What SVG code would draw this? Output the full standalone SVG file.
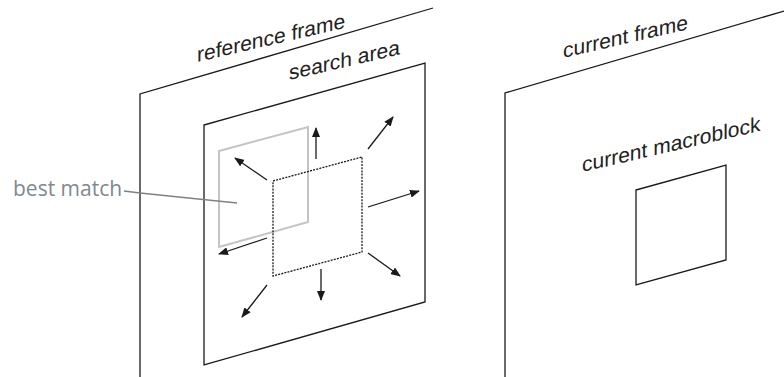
<svg xmlns="http://www.w3.org/2000/svg" width="784" height="377" viewBox="0 0 784 377">
  <style>
    .edge { fill: none; stroke: #1a1a1a; stroke-width: 1.3; stroke-linejoin: miter; }
    .dotted { fill: none; stroke: #1a1a1a; stroke-width: 1.3; stroke-dasharray: 2 1.2; }
    .ghost { fill: none; stroke: #c4c4c4; stroke-width: 2; }
    .arrow { fill: none; stroke: #1a1a1a; stroke-width: 1.3; marker-end: url(#head); }
    .label { font-family: "Liberation Sans", Arial, sans-serif; font-size: 21px; fill: #222; }
    .note { font-family: "Open Sans", "Noto Sans", sans-serif; font-size: 21px; fill: #808890; }
    .leader { fill: none; stroke: #808080; stroke-width: 1.5; }
  </style>
  <defs>
    <marker id="head" viewBox="0 0 10 8" refX="9" refY="4" markerWidth="10" markerHeight="8" markerUnits="userSpaceOnUse" orient="auto">
      <path d="M0,0 L10,4 L0,8 Z" fill="#1a1a1a"/>
    </marker>
  </defs>

  <rect width="784" height="377" fill="#ffffff"/>

  <!-- reference frame plane -->
  <g id="reference-frame">
    <path class="edge" d="M140,377 V94 L433,8"/>
    <text class="label" transform="translate(197,62) skewY(-13)">reference frame</text>
  </g>

  <!-- search area inside the reference frame -->
  <g id="search-area">
    <polygon class="edge" points="204,125 425,63 425,302 204,365"/>
    <text class="label" transform="translate(289,80) skewY(-13)">search area</text>
  </g>

  <!-- best matching block found in the search -->
  <g id="best-match">
    <polygon class="ghost" points="219,151 308,127 308,222 219,247"/>
  </g>

  <!-- co-located block position in the search area -->
  <g id="candidate-block">
    <polygon class="dotted" points="273,181 362,157 362,252 273,276"/>
  </g>

  <!-- current frame plane -->
  <g id="current-frame">
    <path class="edge" d="M505,377 V93 L784,11"/>
    <text class="label" transform="translate(563,58) skewY(-13)">current frame</text>
  </g>

  <g id="current-macroblock">
    <polygon class="edge" points="636,190 726,165 726,260 636,285"/>
    <text class="label" transform="translate(582,172) skewY(-13)">current macroblock</text>
  </g>

  <!-- label with leader line -->
  <g id="best-match-label">
    <text class="note" x="13" y="196">best match</text>
  </g>

  <!-- search direction arrows and leader -->
  <g id="connectors">
    <polyline class="leader" points="124,191 140,193 237,203"/>
    <line class="arrow" x1="316" y1="159" x2="316" y2="128"/>
    <line class="arrow" x1="368" y1="149" x2="393" y2="117"/>
    <line class="arrow" x1="368" y1="207" x2="419" y2="191"/>
    <line class="arrow" x1="368" y1="253" x2="400" y2="276"/>
    <line class="arrow" x1="321" y1="269" x2="321" y2="300"/>
    <line class="arrow" x1="267" y1="285" x2="242" y2="317"/>
    <line class="arrow" x1="267" y1="238" x2="219" y2="254"/>
    <line class="arrow" x1="267" y1="180" x2="235" y2="158"/>
  </g>
</svg>
